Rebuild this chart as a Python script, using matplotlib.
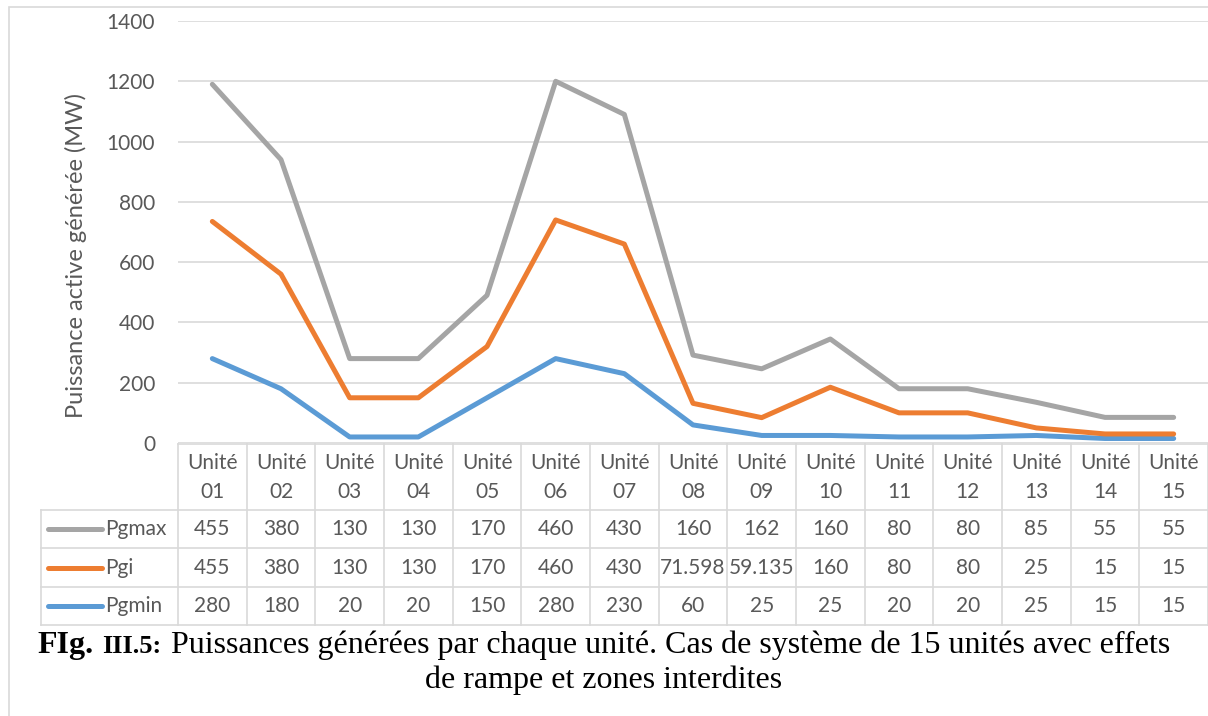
import numpy as np
import matplotlib
matplotlib.use('Agg')
import matplotlib.pyplot as plt
from matplotlib.patches import Rectangle

units = ['Unité\n01', 'Unité\n02', 'Unité\n03', 'Unité\n04', 'Unité\n05',
         'Unité\n06', 'Unité\n07', 'Unité\n08', 'Unité\n09', 'Unité\n10',
         'Unité\n11', 'Unité\n12', 'Unité\n13', 'Unité\n14', 'Unité\n15']
pgmax = [455, 380, 130, 130, 170, 460, 430, 160, 162, 160, 80, 80, 85, 55, 55]
pgi = [455, 380, 130, 130, 170, 460, 430, 71.598, 59.135, 160, 80, 80, 25, 15, 15]
pgmin = [280, 180, 20, 20, 150, 280, 230, 60, 25, 25, 20, 20, 25, 15, 15]

plt.rcParams['font.family'] = ['Lato', 'DejaVu Sans']
TXT = '#595959'
GRID = '#D9D9D9'
C_MAX, C_GI, C_MIN = '#A5A5A5', '#ED7D31', '#5B9BD5'
FS = 15

W, H = 1208, 716
fig = plt.figure(figsize=(W / 100, H / 100), dpi=100)


def fx(px):
    return px / W


def fy(py):
    return 1 - py / H


# chart area (pixel bounds)
pl, pr, pt, pb = 178, 1208, 21, 443
ax = fig.add_axes([fx(pl), fy(pb), (pr - pl) / W, (pb - pt) / H])

# stacked lines (Excel "stacked line" chart)
x = np.arange(len(units))
s_min = np.array(pgmin, dtype=float)
s_gi = s_min + np.array(pgi)
s_max = s_gi + np.array(pgmax)
lw = 3.6
ax.plot(x, s_min, color=C_MIN, lw=lw, solid_joinstyle='round', solid_capstyle='round', zorder=3)
ax.plot(x, s_gi, color=C_GI, lw=lw, solid_joinstyle='round', solid_capstyle='round', zorder=4)
ax.plot(x, s_max, color=C_MAX, lw=lw, solid_joinstyle='round', solid_capstyle='round', zorder=5)

ax.set_xlim(-0.5, len(units) - 0.5)
ax.set_ylim(0, 1400)
ax.set_yticks(range(0, 1401, 200))
ax.set_xticks([])
ax.grid(axis='y', color=GRID, lw=1.2)
ax.set_axisbelow(True)
for sp in ax.spines.values():
    sp.set_visible(False)
ax.tick_params(axis='y', length=0, pad=16.5, labelsize=FS, labelcolor=TXT)

fig.text(fx(76), fy(255), 'Puissance active générée (MW)', rotation=90,
         ha='center', va='center', fontsize=17, color=TXT)

# data table below the chart
tl = 41
colw = (pr - pl) / len(units)
tab = fig.add_axes([fx(tl), fy(625), (pr - tl) / W, (625 - 444) / H])
xleft = -0.5 - (pl - tl) / colw
tab.set_xlim(xleft, len(units) - 0.5)
tab.set_ylim(625, 444)
tab.axis('off')


def tx(px):
    return xleft + (px - tl) / colw


lkw = dict(color=GRID, lw=1.2, clip_on=False)
tab.plot([-0.5, len(units) - 0.5], [444, 444], **lkw)
for yy in [510, 548, 587, 625]:
    tab.plot([xleft, len(units) - 0.5], [yy, yy], **lkw)
for k in range(len(units) + 1):
    tab.plot([k - 0.5, k - 0.5], [444, 625], **lkw)
tab.plot([xleft, xleft], [510, 625], **lkw)

for i, lab in enumerate(units):
    top, bot = lab.split('\n')
    tab.text(i, 463, top, ha='center', va='center', fontsize=FS, color=TXT)
    tab.text(i, 492, bot, ha='center', va='center', fontsize=FS, color=TXT)

rows = [('Pgmax', pgmax, C_MAX, 529), ('Pgi', pgi, C_GI, 568), ('Pgmin', pgmin, C_MIN, 606)]
for name, vals, col, yy in rows:
    tab.plot([tx(48), tx(102)], [yy, yy], color=col, lw=lw, solid_capstyle='round', clip_on=False)
    tab.text(tx(105), yy, name, ha='left', va='center', fontsize=FS, color=TXT)
    for i, v in enumerate(vals):
        tab.text(i, yy, '{:g}'.format(v), ha='center', va='center', fontsize=FS, color=TXT)

# outer chart frame
fig.patches.append(Rectangle((fx(9), fy(730)), (1230 - 9) / W, (730 - 7) / H,
                             transform=fig.transFigure, fill=False, edgecolor=GRID, lw=1.2))

# caption
renderer = fig.canvas.get_renderer()


def caption_line(pieces, base_y, cx=604):
    arts = []
    for s, weight, size, gap in pieces:
        t = fig.text(0, fy(base_y), s, fontsize=size, fontweight=weight, family='Liberation Serif',
                     color='black', ha='left', va='baseline')
        arts.append((t, gap))
    widths = [a.get_window_extent(renderer).width for a, _ in arts]
    total = sum(widths) + sum(g for _, g in arts)
    xpos = cx - total / 2
    for (a, g), w in zip(arts, widths):
        a.set_x(fx(xpos))
        xpos += w + g


caption_line([('FIg.', 'bold', 23, 8), ('III.5:', 'bold', 19, 10),
              ('Puissances générées par chaque unité. Cas de système de 15 unités avec effets', 'normal', 23, 0)], 653)
caption_line([('de rampe et zones interdites', 'normal', 23, 0)], 688)

fig.savefig('out.png', dpi=100)
